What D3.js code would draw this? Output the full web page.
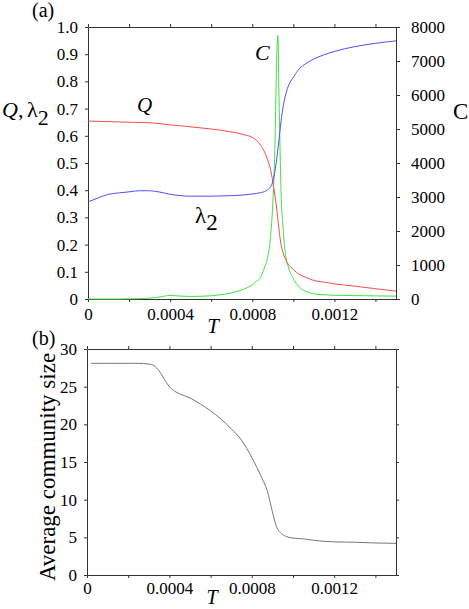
<!DOCTYPE html>
<html>
<head>
<meta charset="utf-8">
<script src="https://cdn.jsdelivr.net/npm/d3@7"></script>
</head>
<body style="margin:0;background:#fff">
<svg width="469" height="609"></svg>
<script>
// temperature T, in units of 1e-4
const tTop = [0, 0.5, 1, 1.5, 2, 2.5, 3, 3.5, 4, 4.5, 5, 5.5, 6, 6.5, 7, 7.5, 8, 8.2, 8.4, 8.6,
  8.7, 8.8, 8.9, 9.0, 9.1, 9.2, 9.25, 9.3, 9.35, 9.4, 9.5, 9.6, 9.75, 10, 10.3, 10.6, 11, 11.5, 12, 13, 14, 15];
const qVals = [0.654, 0.653, 0.652, 0.651, 0.650, 0.649, 0.648, 0.645, 0.640, 0.637, 0.633, 0.629, 0.625, 0.620,
  0.614, 0.606, 0.594, 0.584, 0.566, 0.540, 0.522, 0.500, 0.472, 0.432, 0.383, 0.325, 0.293, 0.258, 0.226, 0.202,
  0.170, 0.149, 0.128, 0.108, 0.090, 0.080, 0.068, 0.062, 0.056, 0.047, 0.038, 0.029];
const lambda2Vals = [0.357, 0.372, 0.385, 0.390, 0.394, 0.398, 0.398, 0.393, 0.385, 0.380, 0.378, 0.378, 0.378,
  0.379, 0.380, 0.382, 0.386, 0.388, 0.391, 0.395, 0.399, 0.405, 0.414, 0.432, 0.468, 0.520, 0.552, 0.585, 0.620,
  0.652, 0.706, 0.743, 0.782, 0.815, 0.847, 0.865, 0.882, 0.898, 0.910, 0.928, 0.940, 0.949];
const cVals = [0, 0, 0, 0, 5, 10, 25, 60, 105, 85, 75, 80, 95, 130, 180, 270, 420, 520, 630, 930, 1100, 1400,
  1900, 2800, 4400, 7300, 7750, 6000, 4500, 3200, 2100, 1400, 950, 600, 340, 230, 150, 125, 110, 100, 92, 85];

const tBottom = [0.2, 1, 2, 2.5, 3, 3.25, 3.5, 3.75, 4, 4.25, 4.5, 5, 5.5, 6, 6.5, 7, 7.5, 8, 8.5, 8.75,
  9, 9.2, 9.4, 9.6, 9.8, 10, 10.5, 11, 12, 13, 14, 15];
const sizeVals = [28.1, 28.1, 28.1, 28.1, 28.0, 27.8, 27.1, 26.0, 25.0, 24.4, 24.05, 23.5, 22.7, 21.8, 20.7,
  19.4, 17.9, 15.6, 12.8, 11.2, 8.4, 6.4, 5.6, 5.2, 5.0, 4.9, 4.8, 4.6, 4.4, 4.35, 4.25, 4.2];

const xTicks = [0, 2, 4, 6, 8, 10, 12, 14];
const xTickLabels = ["0", "", "0.0004", "", "0.0008", "", "0.0012", ""];
const leftTicks = [0, 0.1, 0.2, 0.3, 0.4, 0.5, 0.6, 0.7, 0.8, 0.9, 1.0];
const leftTickLabels = ["0", "0.1", "0.2", "0.3", "0.4", "0.5", "0.6", "0.7", "0.8", "0.9", "1.0"];
const cTicks = [0, 1000, 2000, 3000, 4000, 5000, 6000, 7000, 8000];
const sizeTicks = [0, 5, 10, 15, 20, 25, 30];

const FONT = "Liberation Serif";
const svg = d3.select("svg");

function styleAxis(g) {
  g.attr("font-family", FONT).attr("font-size", 17);
  g.selectAll("path, line").attr("stroke", "#333");
  g.selectAll("text").attr("fill", "#000");
}
function label(x, y, size, str, italic) {
  return svg.append("text").attr("x", x).attr("y", y).attr("font-family", FONT)
    .attr("font-size", size).attr("font-style", italic ? "italic" : "normal").text(str);
}

// ---- panel (a) ----
const x = d3.scaleLinear().domain([0, 15]).range([88, 396]);
const yL = d3.scaleLinear().domain([0, 1]).range([299, 27]);
const yC = d3.scaleLinear().domain([0, 8000]).range([299, 27]);

svg.append("g").attr("transform", "translate(0,299)")
  .call(d3.axisBottom(x).tickValues(xTicks).tickSize(3).tickSizeOuter(0).tickPadding(6)
    .tickFormat((d, i) => xTickLabels[i])).call(styleAxis);
svg.append("g").attr("transform", "translate(0,27)")
  .call(d3.axisTop(x).tickValues(xTicks).tickSize(3).tickSizeOuter(0).tickFormat("")).call(styleAxis);
svg.append("g").attr("transform", "translate(88,0)")
  .call(d3.axisLeft(yL).tickValues(leftTicks).tickSize(3).tickSizeOuter(0).tickPadding(7)
    .tickFormat((d, i) => leftTickLabels[i])).call(styleAxis);
svg.append("g").attr("transform", "translate(396,0)")
  .call(d3.axisRight(yC).tickValues(cTicks).tickSize(4).tickSizeOuter(0).tickPadding(11)
    .tickFormat(d3.format("d"))).call(styleAxis);

const lineQ = d3.line().x((d, i) => x(tTop[i])).y(d => yL(d)).curve(d3.curveMonotoneX);
const lineC = d3.line().x((d, i) => x(tTop[i])).y(d => yC(d)).curve(d3.curveMonotoneX);

svg.append("path").datum(cVals).attr("d", lineC)
  .attr("fill", "none").attr("stroke", "#44e044").attr("stroke-width", 1);
svg.append("path").datum(qVals).attr("d", lineQ)
  .attr("fill", "none").attr("stroke", "#ff4a4a").attr("stroke-width", 1);
svg.append("path").datum(lambda2Vals).attr("d", lineQ)
  .attr("fill", "none").attr("stroke", "#5050ff").attr("stroke-width", 1);

label(32, 17, 20, "(a)");

const lab = label(2, 117, 22, "");
lab.append("tspan").attr("font-style", "italic").text("Q");
lab.append("tspan").text(",");
lab.append("tspan").attr("x", 27).text("λ");
lab.append("tspan").attr("dy", 8).text("2");

label(453, 119, 23, "C");
label(137, 112, 21, "Q", true);
const l2 = label(195, 223, 23, "");
l2.append("tspan").text("λ");
l2.append("tspan").attr("dy", 7).text("2");
label(255, 60, 22, "C", true);
label(213, 333, 21, "T", true).attr("text-anchor", "middle");

// ---- panel (b) ----
const x2 = d3.scaleLinear().domain([0, 15]).range([87, 396]);
const yS = d3.scaleLinear().domain([0, 30]).range([575, 349]);

svg.append("g").attr("transform", "translate(0,575)")
  .call(d3.axisBottom(x2).tickValues(xTicks).tickSize(3).tickSizeOuter(0).tickPadding(4)
    .tickFormat((d, i) => xTickLabels[i])).call(styleAxis);
svg.append("g").attr("transform", "translate(0,349)")
  .call(d3.axisTop(x2).tickValues(xTicks).tickSize(3).tickSizeOuter(0).tickFormat("")).call(styleAxis);
svg.append("g").attr("transform", "translate(87,0)")
  .call(d3.axisLeft(yS).tickValues(sizeTicks).tickSize(3).tickSizeOuter(0).tickPadding(7)).call(styleAxis);
svg.append("g").attr("transform", "translate(396,0)")
  .call(d3.axisRight(yS).tickValues(sizeTicks).tickSize(3).tickSizeOuter(0).tickFormat("")).call(styleAxis);

const lineS = d3.line().x((d, i) => x2(tBottom[i])).y(d => yS(d)).curve(d3.curveMonotoneX);
svg.append("path").datum(sizeVals).attr("d", lineS)
  .attr("fill", "none").attr("stroke", "#777").attr("stroke-width", 1);

label(32, 345, 20, "(b)");
svg.append("text").attr("transform", "translate(55,467) rotate(-90)").attr("text-anchor", "middle")
  .attr("font-family", FONT).attr("font-size", 23).text("Average community size");
label(212, 604, 20, "T", true).attr("text-anchor", "middle");
</script>
</body>
</html>
